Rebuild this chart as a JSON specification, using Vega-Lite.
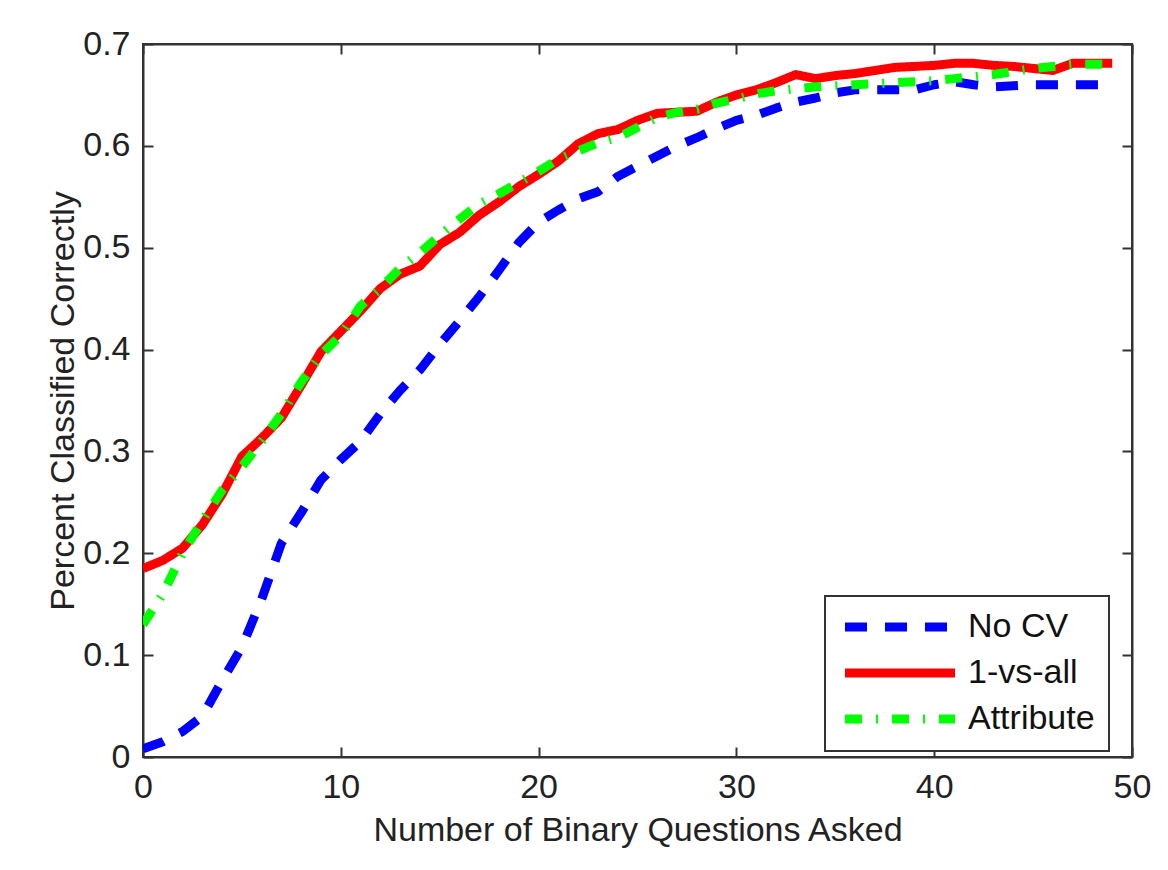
{
  "$schema": "https://vega.github.io/schema/vega-lite/v6.json",
  "width": 989,
  "height": 713,
  "autosize": {"type": "none"},
  "padding": {"left": 143, "top": 44, "right": 36, "bottom": 113},
  "background": "white",
  "datasets": {
    "curves": [
      {"x":0,"series":"No CV","y":0.008},{"x":1,"series":"No CV","y":0.015},{"x":2,"series":"No CV","y":0.025},{"x":3,"series":"No CV","y":0.04},{"x":4,"series":"No CV","y":0.075},{"x":5,"series":"No CV","y":0.108},{"x":6,"series":"No CV","y":0.155},{"x":7,"series":"No CV","y":0.21},{"x":8,"series":"No CV","y":0.24},{"x":9,"series":"No CV","y":0.272},
      {"x":10,"series":"No CV","y":0.292},{"x":11,"series":"No CV","y":0.31},{"x":12,"series":"No CV","y":0.337},{"x":13,"series":"No CV","y":0.36},{"x":14,"series":"No CV","y":0.38},{"x":15,"series":"No CV","y":0.405},{"x":16,"series":"No CV","y":0.428},{"x":17,"series":"No CV","y":0.452},{"x":18,"series":"No CV","y":0.478},{"x":19,"series":"No CV","y":0.505},
      {"x":20,"series":"No CV","y":0.525},{"x":21,"series":"No CV","y":0.537},{"x":22,"series":"No CV","y":0.548},{"x":23,"series":"No CV","y":0.555},{"x":24,"series":"No CV","y":0.57},{"x":25,"series":"No CV","y":0.58},{"x":26,"series":"No CV","y":0.59},{"x":27,"series":"No CV","y":0.6},{"x":28,"series":"No CV","y":0.608},{"x":29,"series":"No CV","y":0.617},
      {"x":30,"series":"No CV","y":0.625},{"x":31,"series":"No CV","y":0.63},{"x":32,"series":"No CV","y":0.637},{"x":33,"series":"No CV","y":0.643},{"x":34,"series":"No CV","y":0.647},{"x":35,"series":"No CV","y":0.652},{"x":36,"series":"No CV","y":0.655},{"x":37,"series":"No CV","y":0.655},{"x":38,"series":"No CV","y":0.655},{"x":39,"series":"No CV","y":0.655},
      {"x":40,"series":"No CV","y":0.66},{"x":41,"series":"No CV","y":0.663},{"x":42,"series":"No CV","y":0.66},{"x":43,"series":"No CV","y":0.658},{"x":44,"series":"No CV","y":0.659},{"x":45,"series":"No CV","y":0.66},{"x":46,"series":"No CV","y":0.66},{"x":47,"series":"No CV","y":0.66},{"x":48,"series":"No CV","y":0.66},{"x":49,"series":"No CV","y":0.66},
      {"x":0,"series":"1-vs-all","y":0.185},{"x":1,"series":"1-vs-all","y":0.193},{"x":2,"series":"1-vs-all","y":0.205},{"x":3,"series":"1-vs-all","y":0.228},{"x":4,"series":"1-vs-all","y":0.258},{"x":5,"series":"1-vs-all","y":0.295},{"x":6,"series":"1-vs-all","y":0.313},{"x":7,"series":"1-vs-all","y":0.333},{"x":8,"series":"1-vs-all","y":0.365},{"x":9,"series":"1-vs-all","y":0.398},
      {"x":10,"series":"1-vs-all","y":0.418},{"x":11,"series":"1-vs-all","y":0.438},{"x":12,"series":"1-vs-all","y":0.46},{"x":13,"series":"1-vs-all","y":0.474},{"x":14,"series":"1-vs-all","y":0.482},{"x":15,"series":"1-vs-all","y":0.503},{"x":16,"series":"1-vs-all","y":0.515},{"x":17,"series":"1-vs-all","y":0.532},{"x":18,"series":"1-vs-all","y":0.545},{"x":19,"series":"1-vs-all","y":0.56},
      {"x":20,"series":"1-vs-all","y":0.572},{"x":21,"series":"1-vs-all","y":0.585},{"x":22,"series":"1-vs-all","y":0.602},{"x":23,"series":"1-vs-all","y":0.612},{"x":24,"series":"1-vs-all","y":0.616},{"x":25,"series":"1-vs-all","y":0.625},{"x":26,"series":"1-vs-all","y":0.632},{"x":27,"series":"1-vs-all","y":0.633},{"x":28,"series":"1-vs-all","y":0.634},{"x":29,"series":"1-vs-all","y":0.643},
      {"x":30,"series":"1-vs-all","y":0.65},{"x":31,"series":"1-vs-all","y":0.655},{"x":32,"series":"1-vs-all","y":0.662},{"x":33,"series":"1-vs-all","y":0.67},{"x":34,"series":"1-vs-all","y":0.666},{"x":35,"series":"1-vs-all","y":0.669},{"x":36,"series":"1-vs-all","y":0.671},{"x":37,"series":"1-vs-all","y":0.674},{"x":38,"series":"1-vs-all","y":0.677},{"x":39,"series":"1-vs-all","y":0.678},
      {"x":40,"series":"1-vs-all","y":0.679},{"x":41,"series":"1-vs-all","y":0.681},{"x":42,"series":"1-vs-all","y":0.681},{"x":43,"series":"1-vs-all","y":0.679},{"x":44,"series":"1-vs-all","y":0.678},{"x":45,"series":"1-vs-all","y":0.676},{"x":46,"series":"1-vs-all","y":0.674},{"x":47,"series":"1-vs-all","y":0.681},{"x":48,"series":"1-vs-all","y":0.681},{"x":49,"series":"1-vs-all","y":0.681},
      {"x":0,"series":"Attribute","y":0.13},{"x":1,"series":"Attribute","y":0.16},{"x":2,"series":"Attribute","y":0.2},{"x":3,"series":"Attribute","y":0.232},{"x":4,"series":"Attribute","y":0.262},{"x":5,"series":"Attribute","y":0.285},{"x":6,"series":"Attribute","y":0.31},{"x":7,"series":"Attribute","y":0.337},{"x":8,"series":"Attribute","y":0.368},{"x":9,"series":"Attribute","y":0.395},
      {"x":10,"series":"Attribute","y":0.414},{"x":11,"series":"Attribute","y":0.443},{"x":12,"series":"Attribute","y":0.46},{"x":13,"series":"Attribute","y":0.48},{"x":14,"series":"Attribute","y":0.495},{"x":15,"series":"Attribute","y":0.512},{"x":16,"series":"Attribute","y":0.528},{"x":17,"series":"Attribute","y":0.543},{"x":18,"series":"Attribute","y":0.553},{"x":19,"series":"Attribute","y":0.564},
      {"x":20,"series":"Attribute","y":0.575},{"x":21,"series":"Attribute","y":0.587},{"x":22,"series":"Attribute","y":0.595},{"x":23,"series":"Attribute","y":0.603},{"x":24,"series":"Attribute","y":0.608},{"x":25,"series":"Attribute","y":0.618},{"x":26,"series":"Attribute","y":0.628},{"x":27,"series":"Attribute","y":0.633},{"x":28,"series":"Attribute","y":0.636},{"x":29,"series":"Attribute","y":0.642},
      {"x":30,"series":"Attribute","y":0.646},{"x":31,"series":"Attribute","y":0.651},{"x":32,"series":"Attribute","y":0.654},{"x":33,"series":"Attribute","y":0.656},{"x":34,"series":"Attribute","y":0.658},{"x":35,"series":"Attribute","y":0.659},{"x":36,"series":"Attribute","y":0.66},{"x":37,"series":"Attribute","y":0.661},{"x":38,"series":"Attribute","y":0.662},{"x":39,"series":"Attribute","y":0.663},
      {"x":40,"series":"Attribute","y":0.664},{"x":41,"series":"Attribute","y":0.666},{"x":42,"series":"Attribute","y":0.668},{"x":43,"series":"Attribute","y":0.67},{"x":44,"series":"Attribute","y":0.673},{"x":45,"series":"Attribute","y":0.676},{"x":46,"series":"Attribute","y":0.678},{"x":47,"series":"Attribute","y":0.68},{"x":48,"series":"Attribute","y":0.68},{"x":49,"series":"Attribute","y":0.68}
    ]
  },
  "data": {"name": "curves"},
  "layer": [
    {
      "mark": {"type": "line", "strokeWidth": 9, "strokeCap": "butt", "strokeJoin": "round", "clip": true},
      "encoding": {
        "x": {"field": "x", "type": "quantitative", "scale": {"domain": [0, 50], "nice": false},
              "axis": {"orient": "bottom", "values": [0,10,20,30,40,50], "labelFlush": false, "title": "Number of Binary Questions Asked", "titlePadding": 9}},
        "y": {"field": "y", "type": "quantitative", "scale": {"domain": [0, 0.7], "nice": false, "zero": false},
              "axis": {"orient": "left", "values": [0,0.1,0.2,0.3,0.4,0.5,0.6,0.7], "format": ".1~f", "labelFlush": false, "title": "Percent Classified Correctly", "titlePadding": 2}},
        "color": {"field": "series", "type": "nominal", "sort": ["No CV","1-vs-all","Attribute"],
                  "scale": {"domain": ["No CV","1-vs-all","Attribute"], "range": ["#0000ff","#ff0000","#00ff00"]},
                  "legend": {"title": null, "orient": "none", "legendX": 682, "legendY": 552}},
        "strokeDash": {"field": "series", "type": "nominal", "sort": ["No CV","1-vs-all","Attribute"],
                  "scale": {"domain": ["No CV","1-vs-all","Attribute"], "range": [[22,18],[1,0],[17,14,2,14]]},
                  "legend": {"title": null, "orient": "none", "legendX": 682, "legendY": 552}}
      }
    },
    {
      "mark": {"type": "line", "opacity": 0},
      "encoding": {
        "x": {"field": "x", "type": "quantitative", "axis": {"orient": "top", "values": [0,10,20,30,40,50], "labels": false, "title": null}},
        "y": {"field": "y", "type": "quantitative", "axis": {"orient": "right", "values": [0,0.1,0.2,0.3,0.4,0.5,0.6,0.7], "labels": false, "title": null}}
      }
    }
  ],
  "resolve": {"axis": {"x": "independent", "y": "independent"}},
  "config": {
    "view": {"stroke": "#333", "strokeWidth": 2},
    "axis": {
      "grid": false,
      "domainColor": "#333", "domainWidth": 2,
      "tickColor": "#333", "tickWidth": 2, "tickSize": -10,
      "labelPadding": 23,
      "labelFont": "Liberation Sans", "labelFontSize": 34, "labelColor": "#222",
      "titleFont": "Liberation Sans", "titleFontSize": 34, "titleFontWeight": "normal", "titleColor": "#222"
    },
    "legend": {
      "symbolType": "M-1,0H9", "symbolSize": 484, "symbolStrokeWidth": 9,
      "labelFont": "Liberation Sans", "labelFontSize": 34, "labelColor": "#111", "labelOffset": 95,
      "padding": 14, "rowPadding": 10,
      "strokeColor": "#333", "strokeWidth": 2, "fillColor": "white"
    }
  }
}
